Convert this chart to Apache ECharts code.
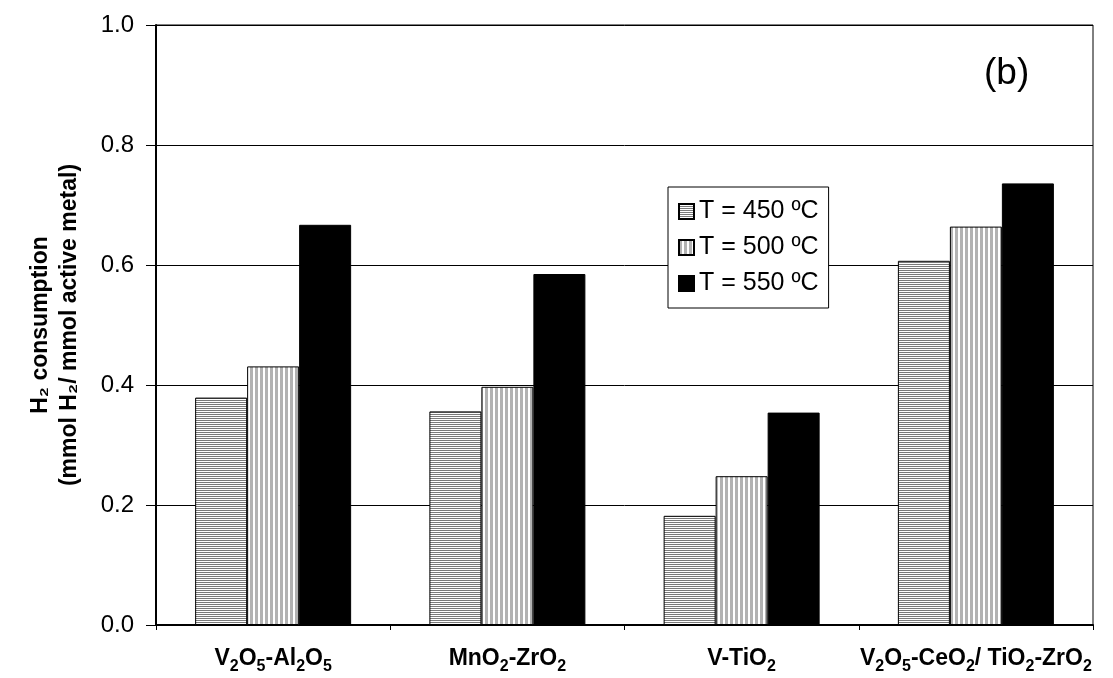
<!DOCTYPE html>
<html>
<head>
<meta charset="utf-8">
<script src="https://cdn.jsdelivr.net/npm/echarts@6/dist/echarts.min.js"></script>
<style>
  html, body { margin: 0; padding: 0; background: #fff; }
  #main { width: 1113px; height: 678px; }
</style>
</head>
<body>
<div id="main"></div>
<script>
// catalysts on the x axis (rich text for the subscripts)
var categories = [
  'V{s|2}O{s|5}-Al{s|2}O{s|5}',
  'MnO{s|2}-ZrO{s|2}',
  'V-TiO{s|2}',
  'V{s|2}O{s|5}-CeO{s|2}/ TiO{s|2}-ZrO{s|2}'
];
var seriesNames = ['T = 450 ºC', 'T = 500 ºC', 'T = 550 ºC'];
var t450 = [0.379, 0.356, 0.182, 0.607];
var t500 = [0.431, 0.397, 0.248, 0.664];
var t550 = [0.667, 0.585, 0.354, 0.736];

var FONT = 'Arial, Liberation Sans, sans-serif';

// fill patterns
function hStripes() {
  var c = document.createElement('canvas');
  c.width = 4; c.height = 2;
  var ctx = c.getContext('2d');
  ctx.fillStyle = '#fff'; ctx.fillRect(0, 0, 4, 2);
  ctx.fillStyle = '#7a7a7a'; ctx.fillRect(0, 0, 4, 1);
  return c;
}
function vStripes() {
  var c = document.createElement('canvas');
  c.width = 5; c.height = 4;
  var ctx = c.getContext('2d');
  ctx.fillStyle = '#fff'; ctx.fillRect(0, 0, 5, 4);
  ctx.fillStyle = '#b2b2b2'; ctx.fillRect(0, 0, 3, 4);
  return c;
}

var fills = [
  { image: hStripes(), repeat: 'repeat' },
  { image: vStripes(), repeat: 'repeat' },
  '#000'
];
var values = [t450, t500, t550];

var myChart = echarts.init(document.getElementById('main'));

var series = [];
for (var i = 0; i < 3; i++) {
  series.push({
    name: seriesNames[i],
    type: 'bar',
    data: values[i],
    barWidth: 52,
    barGap: '0%',
    itemStyle: { color: fills[i], borderColor: '#000', borderWidth: 1 }
  });
}

myChart.setOption({
  animation: false,
  backgroundColor: '#fff',
  textStyle: { fontFamily: FONT },
  grid: {
    left: 156, right: 20, top: 25, bottom: 53,
    show: true, borderColor: '#000', borderWidth: 1
  },
  legend: {
    orient: 'vertical',
    left: 668, top: 187,
    itemWidth: 15, itemHeight: 15, itemGap: 11,
    padding: [12, 10, 12, 10],
    backgroundColor: '#fff',
    borderColor: '#000', borderWidth: 1,
    textStyle: { fontSize: 25, color: '#000', fontFamily: FONT },
    data: seriesNames.map(function (n) { return { name: n, icon: 'rect' }; })
  },
  xAxis: {
    type: 'category',
    data: categories,
    axisLine: { lineStyle: { color: '#000', width: 2 } },
    axisTick: { show: true, interval: 0, length: 5, lineStyle: { color: '#000' } },
    axisLabel: {
      interval: 0,
      margin: 18,
      fontSize: 23, fontWeight: 'bold', color: '#000',
      rich: {
        s: { fontSize: 16, fontWeight: 'bold', color: '#000', verticalAlign: 'bottom', lineHeight: 32 }
      }
    }
  },
  yAxis: {
    type: 'value',
    min: 0, max: 1, interval: 0.2,
    name: 'H\u2082 consumption\n(mmol H\u2082/ mmol active metal)',
    nameLocation: 'middle',
    nameGap: 72,
    nameTextStyle: { fontSize: 23, fontWeight: 'bold', color: '#000', lineHeight: 29 },
    axisLine: { show: true, lineStyle: { color: '#000', width: 2 } },
    axisTick: { show: true, length: 10, lineStyle: { color: '#000' } },
    axisLabel: {
      fontSize: 24, color: '#000', margin: 22,
      formatter: function (v) { return v.toFixed(1); }
    },
    splitLine: { lineStyle: { color: '#000', width: 1 } }
  },
  graphic: [{
    type: 'text', left: 984, top: 55,
    style: { text: '(b)', fontSize: 37, fill: '#000', fontFamily: FONT }
  }],
  series: series
});
</script>
</body>
</html>
